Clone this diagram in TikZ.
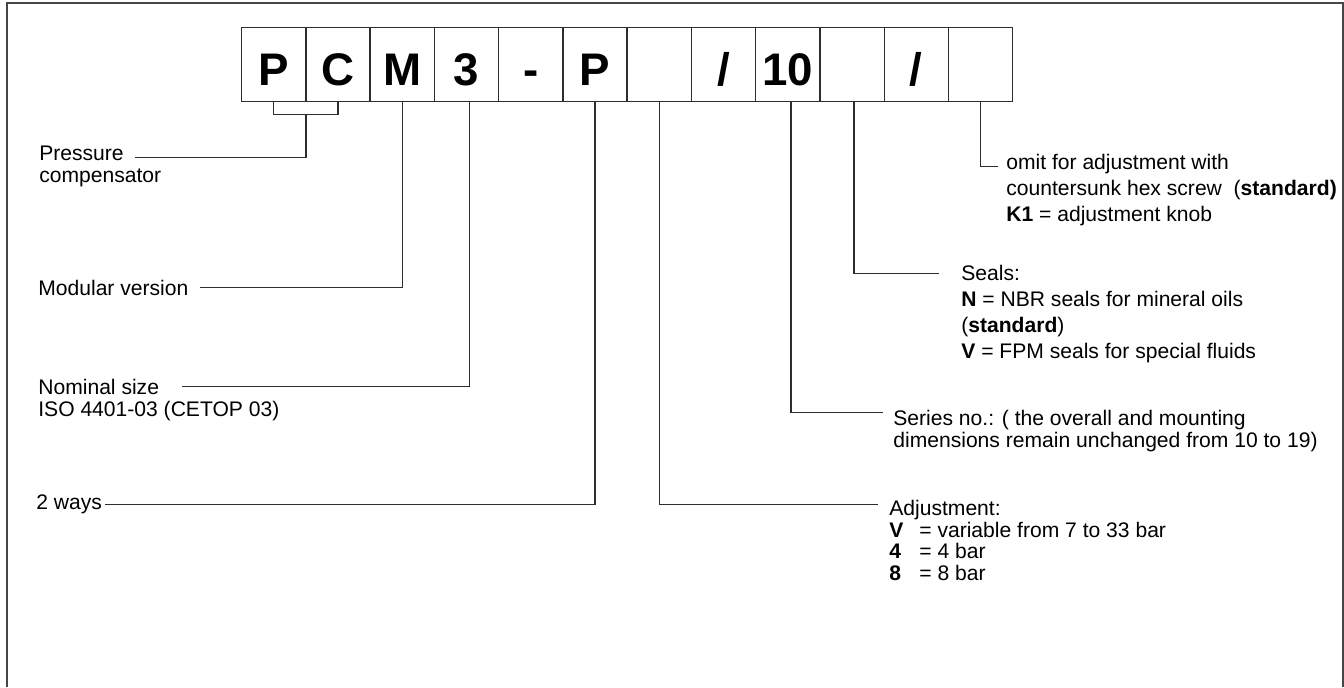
\documentclass[tikz,border=0pt]{standalone}
\usepackage{fontspec}
\setmainfont{Liberation Sans}
\usepackage{tikz}
\usetikzlibrary{positioning, calc}
\definecolor{myline}{RGB}{45,45,45}
\definecolor{myframe}{RGB}{70,70,70}
\newcommand{\fl}{\rule{0pt}{9pt}}
\tikzset{
  codebox/.style={rectangle, draw=myline, line width=0.75pt, anchor=north west,
    minimum width=1.285cm, minimum height=1.48cm, inner sep=0pt,
    text height=0.84cm, text depth=0pt, font=\fontsize{26}{28}\selectfont\bfseries},
  note/.style={anchor=north west, inner sep=0pt, align=left,
    font=\fontsize{12}{12.5}\selectfont},
  widenote/.style={note, font=\fontsize{12}{14.8}\selectfont},
  leader/.style={line width=0.75pt, color=myline}
}

\begin{document}
\begin{tikzpicture}[x=0.02cm, y=-0.02cm]
  \useasboundingbox (0,0) rectangle (1344,687);
  % frame, open at the bottom
  \draw[myframe, line width=1.1pt] (7,687) -- (7,2.7) -- (1343,2.7) -- (1343,687);
  % code boxes
  \foreach \t [count=\i] in {P,C,M,3,-,P,{},/,10,{},/,{}} {
    \node[codebox] (c\i) at ({241+64.25*(\i-1)},27) {\t};
  }
  % leader ends
  \coordinate (presE) at (135,157.3);
  \coordinate (modE) at (200,287.7);
  \coordinate (nomE) at (181.7,386.7);
  \coordinate (wayE) at (105,504.3);
  \coordinate (adjE) at (878.3,504.3);
  \coordinate (serE) at (882.6,412.3);
  \coordinate (sealE) at (939,273.3);
  \coordinate (omitE) at (997.5,166.7);
  % leaders
  \draw[leader] (c1.south) -- ++(0,12) -| (c2.south);
  \coordinate (brk) at ($(c1.south)!0.5!(c2.south)+(0,12)$);
  \draw[leader] (brk) |- (presE);
  \draw[leader] (c3.south) |- (modE);
  \draw[leader] ([xshift=1.5pt]c4.south) |- (nomE);
  \draw[leader] (c6.south) |- (wayE);
  \draw[leader] (c7.south) |- (adjE);
  \draw[leader] ([xshift=1.9pt]c9.south) |- (serE);
  \draw[leader] ([xshift=1.2pt]c10.south) |- (sealE);
  \draw[leader] (c12.south) |- (omitE);
  % texts on the left
  \node[note] (pres) at (39,144.7) {\fl Pressure\\compensator};
  \node[note] (mod) at (38,279.7) {\fl Modular version};
  \node[note] (nom) at (38,378.4) {\fl Nominal size\\ISO 4401-03 (CETOP 03)};
  \node[note] (way) at (36,493.7) {\fl 2 ways};
  % texts on the right
  \node[note, font=\fontsize{12}{12.2}\selectfont] (adj) at (889,499.7)
    {\fl Adjustment:\\
     \makebox[0.6cm][l]{\textbf{V}}= variable from 7 to 33 bar\\
     \makebox[0.6cm][l]{\textbf{4}}= 4 bar\\
     \makebox[0.6cm][l]{\textbf{8}}= 8 bar};
  \node[note] (ser) at (893,409.7)
    {\fl Series no.: ( the overall and mounting\\
     dimensions remain unchanged from 10 to 19)};
  \node[widenote] (seal) at (961,264.7)
    {\fl Seals:\\
     \textbf{N} = NBR seals for mineral oils\\
     (\textbf{standard})\\
     \textbf{V} = FPM seals for special fluids};
  \node[widenote] (omit) at (1006,153.7)
    {\fl omit for adjustment with\\
     countersunk hex screw\ \ (\textbf{standard)}\\
     \textbf{K1} = adjustment knob};
\end{tikzpicture}
\end{document}
